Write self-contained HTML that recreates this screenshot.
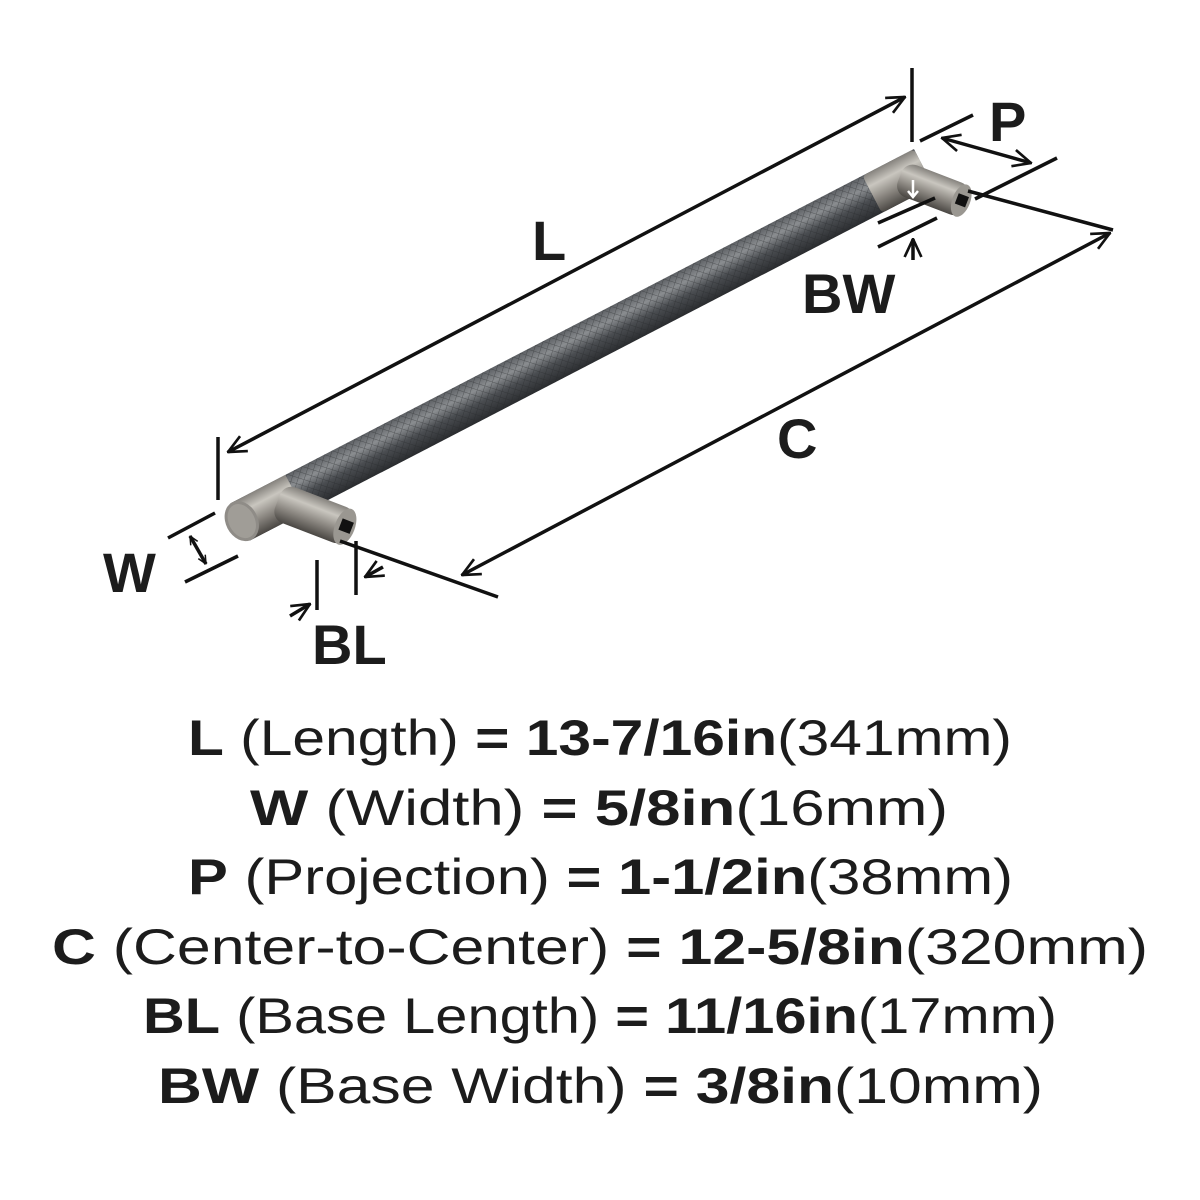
<!DOCTYPE html>
<html><head><meta charset="utf-8"><style>
html,body{margin:0;padding:0;background:#fff;}
svg{display:block;}
.lbl{font-family:"Liberation Sans",sans-serif;font-weight:bold;fill:#1c1c1c;}
.t{font-family:"Liberation Sans",sans-serif;fill:#1c1c1c;font-size:50px;}
.t tspan.b{font-weight:bold;}
</style></head><body>
<svg width="1200" height="1200" viewBox="0 0 1200 1200" xmlns="http://www.w3.org/2000/svg">
<defs>
<linearGradient id="knurl" x1="0" y1="0" x2="0" y2="1">
<stop offset="0" stop-color="#5d6064"/><stop offset="0.3" stop-color="#8a8d90"/><stop offset="0.6" stop-color="#4a4d51"/><stop offset="1" stop-color="#2a2c2f"/>
</linearGradient>
<linearGradient id="metal" x1="0" y1="0" x2="0" y2="1">
<stop offset="0" stop-color="#85827d"/><stop offset="0.3" stop-color="#c9c6bf"/><stop offset="0.65" stop-color="#8a8680"/><stop offset="1" stop-color="#4a4743"/>
</linearGradient>
<pattern id="hatch" width="6" height="6" patternUnits="userSpaceOnUse" patternTransform="rotate(45)">
<path d="M0 0H6M0 0V6" stroke="#25272a" stroke-width="1" opacity="0.5"/>
</pattern>
<marker id="ah" viewBox="0 0 20 20" refX="19" refY="10" markerWidth="10" markerHeight="10" orient="auto-start-reverse" markerUnits="userSpaceOnUse">
<path d="M2 2L19 10L2 18" fill="none" stroke="#111" stroke-width="3"/>
</marker>
<marker id="ah2" viewBox="0 0 20 20" refX="19" refY="10" markerWidth="24" markerHeight="24" orient="auto-start-reverse" markerUnits="userSpaceOnUse">
<path d="M4 3L19 10L4 17" fill="none" stroke="#111" stroke-width="2.2"/>
</marker>
</defs>

<!-- bar -->
<g transform="translate(240,522) rotate(-27.4)">
<rect x="0" y="-21" width="770" height="42" fill="url(#knurl)"/>
<rect x="0" y="-21" width="770" height="42" fill="url(#hatch)"/>
<rect x="0" y="-21" width="62" height="42" fill="url(#metal)"/>
<rect x="712" y="-21" width="58" height="42" rx="4" fill="url(#metal)"/>
<ellipse cx="2" cy="0" rx="16" ry="21" fill="#8f8c87"/>
<ellipse cx="2" cy="0" rx="13" ry="18" fill="#a09d97"/>
</g>
<!-- left post -->
<g transform="translate(278,500) rotate(21)">
<rect x="0" y="-18" width="78" height="38" rx="12" fill="url(#metal)"/>
<ellipse cx="72" cy="1" rx="10" ry="19" fill="#9a9791"/>
<rect x="67" y="-6" width="12" height="12" fill="#111"/>
</g>
<!-- right post -->
<g transform="translate(900,176) rotate(21)">
<rect x="0" y="-16" width="72" height="34" rx="12" fill="url(#metal)"/>
<ellipse cx="66" cy="1" rx="9" ry="17" fill="#9a9791"/>
<rect x="61" y="-5" width="11" height="11" fill="#111"/>
</g>
<path d="M913 180V196M908 191L913 197L918 191" stroke="#fff" stroke-width="2.5" fill="none"/>

<g stroke="#111" stroke-width="3.5" fill="none">
<line x1="218" y1="437" x2="218" y2="500"/>
<line x1="912" y1="68" x2="912" y2="142"/>
<line x1="228" y1="452" x2="905" y2="97" marker-start="url(#ah2)" marker-end="url(#ah2)"/>
<line x1="920" y1="141" x2="973" y2="115"/>
<line x1="975" y1="199" x2="1057" y2="158"/>
<line x1="942" y1="138" x2="1031" y2="163" marker-start="url(#ah2)" marker-end="url(#ah2)"/>
<line x1="878" y1="223" x2="935" y2="198"/>
<line x1="878" y1="247" x2="937" y2="218"/>
<line x1="913" y1="260" x2="913" y2="239" marker-end="url(#ah2)"/>
<line x1="968" y1="191" x2="1113" y2="230"/>
<line x1="340" y1="541" x2="498" y2="597"/>
<line x1="462" y1="575" x2="1110" y2="233" marker-start="url(#ah2)" marker-end="url(#ah2)"/>
<line x1="168" y1="538" x2="215" y2="513"/>
<line x1="185" y1="582" x2="238" y2="556"/>
<line x1="190" y1="536" x2="206" y2="564" marker-start="url(#ah)" marker-end="url(#ah)"/>
<line x1="317" y1="560" x2="317" y2="610"/>
<line x1="356" y1="541" x2="356" y2="595"/>
<line x1="290" y1="616" x2="310" y2="604" marker-end="url(#ah2)"/>
<line x1="383" y1="567" x2="365" y2="577" marker-end="url(#ah2)"/>
</g>

<text class="lbl" x="532" y="260" font-size="56">L</text>
<text class="lbl" x="989" y="141" font-size="56">P</text>
<text class="lbl" x="802" y="313" font-size="56">BW</text>
<text class="lbl" x="777" y="458" font-size="56">C</text>
<text class="lbl" x="103" y="592" font-size="56">W</text>
<text class="lbl" x="312" y="664" font-size="56">BL</text>

<text class="t" x="188" y="755" textLength="824" lengthAdjust="spacingAndGlyphs"><tspan class="b">L</tspan> (Length) <tspan class="b">= 13-7/16in</tspan>(341mm)</text>
<text class="t" x="250" y="825" textLength="698" lengthAdjust="spacingAndGlyphs"><tspan class="b">W</tspan> (Width) <tspan class="b">= 5/8in</tspan>(16mm)</text>
<text class="t" x="188" y="894" textLength="825" lengthAdjust="spacingAndGlyphs"><tspan class="b">P</tspan> (Projection) <tspan class="b">= 1-1/2in</tspan>(38mm)</text>
<text class="t" x="52" y="964" textLength="1096" lengthAdjust="spacingAndGlyphs"><tspan class="b">C</tspan> (Center-to-Center) <tspan class="b">= 12-5/8in</tspan>(320mm)</text>
<text class="t" x="143" y="1033" textLength="914" lengthAdjust="spacingAndGlyphs"><tspan class="b">BL</tspan> (Base Length) <tspan class="b">= 11/16in</tspan>(17mm)</text>
<text class="t" x="158" y="1103" textLength="885" lengthAdjust="spacingAndGlyphs"><tspan class="b">BW</tspan> (Base Width) <tspan class="b">= 3/8in</tspan>(10mm)</text>
</svg>
</body></html>
